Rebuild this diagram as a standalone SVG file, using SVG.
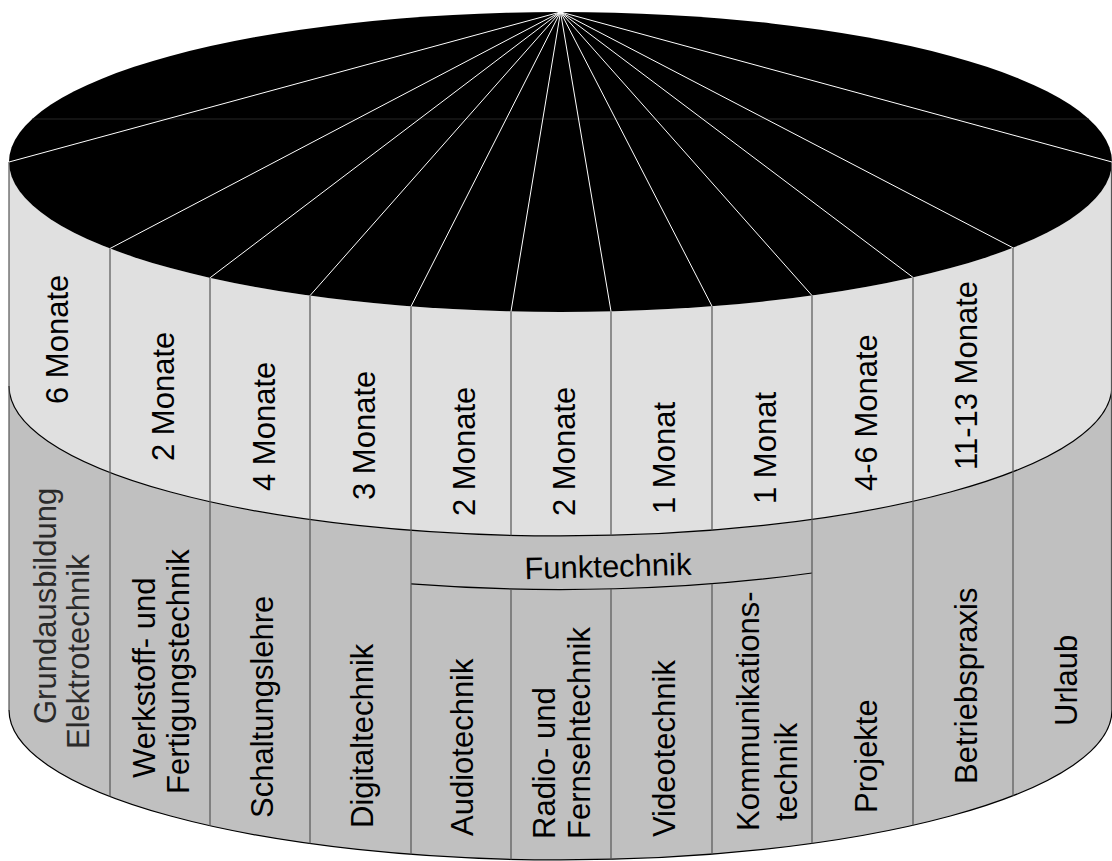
<svg xmlns="http://www.w3.org/2000/svg" width="1112" height="861" viewBox="0 0 1112 861">
<style>
  .lbl { font-family: "Liberation Sans", Arial, sans-serif; font-size: 31px; fill: #000; }
  .div { stroke: #555; stroke-width: 1.2; fill: none; }
  .edge { stroke: #000; stroke-width: 1.2; fill: none; }
  .ray { stroke: #fff; stroke-width: 1; fill: none; }
</style>
<rect x="0" y="0" width="1112" height="861" fill="#fff"/>
<g id="cylinder">
  <path d="M 9 386 A 551.5 150 0 0 0 1112 386 L 1112 710 A 551.5 150 0 0 1 9 710 Z" fill="#c0c0c0"/>
  <path d="M 9 162 A 551.5 150 0 0 0 1112 162 L 1112 386 A 551.5 150 0 0 1 9 386 Z" fill="#e0e0e0"/>
  <ellipse cx="560.5" cy="162" rx="551.5" ry="150" fill="#000"/>
  <line x1="32.5" y1="119" x2="1088.5" y2="119" stroke="#262626" stroke-width="1"/>
  <path class="edge" d="M 9 386 A 551.5 150 0 0 0 1112 386"/>
  <path class="edge" d="M 9 710 A 551.5 150 0 0 0 1112 710"/>
  <path class="edge" d="M 411 583.9 A 551.5 150 0 0 0 812 573"/>
  <line class="div" x1="9" y1="162" x2="9" y2="710"/>
  <line class="div" x1="1111.5" y1="162" x2="1111.5" y2="710"/>
</g>
<g id="connectors">
  <g id="rays">
    <line class="ray" x1="560.5" y1="12" x2="9" y2="162"/>
    <line class="ray" x1="560.5" y1="12" x2="110" y2="248.5"/>
    <line class="ray" x1="560.5" y1="12" x2="210" y2="277.8"/>
    <line class="ray" x1="560.5" y1="12" x2="310" y2="295.6"/>
    <line class="ray" x1="560.5" y1="12" x2="411" y2="306.4"/>
    <line class="ray" x1="560.5" y1="12" x2="511" y2="311.4"/>
    <line class="ray" x1="560.5" y1="12" x2="611" y2="311.4"/>
    <line class="ray" x1="560.5" y1="12" x2="712" y2="306.2"/>
    <line class="ray" x1="560.5" y1="12" x2="812" y2="295.5"/>
    <line class="ray" x1="560.5" y1="12" x2="913" y2="277.4"/>
    <line class="ray" x1="560.5" y1="12" x2="1013" y2="247.8"/>
    <line class="ray" x1="560.5" y1="12" x2="1112" y2="162"/>
  </g>
  <g id="dividers">
    <line class="div" x1="110" y1="248.5" x2="110" y2="796.5"/>
    <line class="div" x1="210" y1="277.8" x2="210" y2="825.8"/>
    <line class="div" x1="310" y1="295.6" x2="310" y2="843.6"/>
    <line class="div" x1="411" y1="306.4" x2="411" y2="854.4"/>
    <line class="div" x1="511" y1="311.4" x2="511" y2="535.4"/>
    <line class="div" x1="511" y1="588.9" x2="511" y2="859.4"/>
    <line class="div" x1="611" y1="311.4" x2="611" y2="535.4"/>
    <line class="div" x1="611" y1="588.9" x2="611" y2="859.4"/>
    <line class="div" x1="712" y1="306.2" x2="712" y2="530.2"/>
    <line class="div" x1="712" y1="583.7" x2="712" y2="854.2"/>
    <line class="div" x1="812" y1="295.5" x2="812" y2="843.5"/>
    <line class="div" x1="913" y1="277.4" x2="913" y2="825.4"/>
    <line class="div" x1="1013" y1="247.8" x2="1013" y2="795.8"/>
  </g>
</g>
<g id="seg-grundausbildung">
  <text class="lbl" transform="translate(68,404) rotate(-90)">6 Monate</text>
  <text class="lbl" style="fill:#2a2a2a" transform="translate(55.5,724) rotate(-90)">Grundausbildung</text>
  <text class="lbl" style="fill:#2a2a2a" transform="translate(89,749) rotate(-90)">Elektrotechnik</text>
</g>
<g id="seg-werkstoff">
  <text class="lbl" transform="translate(174,461) rotate(-90)">2 Monate</text>
  <text class="lbl" transform="translate(155,778) rotate(-90)">Werkstoff- und</text>
  <text class="lbl" transform="translate(189,794) rotate(-90)">Fertigungstechnik</text>
</g>
<g id="seg-schaltungslehre">
  <text class="lbl" transform="translate(275,491) rotate(-90)">4 Monate</text>
  <text class="lbl" transform="translate(273,818) rotate(-90)">Schaltungslehre</text>
</g>
<g id="seg-digitaltechnik">
  <text class="lbl" transform="translate(375,500) rotate(-90)">3 Monate</text>
  <text class="lbl" transform="translate(373,828) rotate(-90)">Digitaltechnik</text>
</g>
<g id="seg-funktechnik">
  <text class="lbl" text-anchor="middle" x="608" y="577" transform="rotate(-1.5 608 570)">Funktechnik</text>
</g>
<g id="seg-audiotechnik">
  <text class="lbl" transform="translate(475,516) rotate(-90)">2 Monate</text>
  <text class="lbl" transform="translate(473,836) rotate(-90)">Audiotechnik</text>
</g>
<g id="seg-radio">
  <text class="lbl" transform="translate(575,516) rotate(-90)">2 Monate</text>
  <text class="lbl" transform="translate(555,839) rotate(-90)">Radio- und</text>
  <text class="lbl" transform="translate(589.5,839) rotate(-90)">Fernsehtechnik</text>
</g>
<g id="seg-video">
  <text class="lbl" transform="translate(675,514) rotate(-90)">1 Monat</text>
  <text class="lbl" transform="translate(675,837) rotate(-90)">Videotechnik</text>
</g>
<g id="seg-kommunikation">
  <text class="lbl" transform="translate(776,504) rotate(-90)">1 Monat</text>
  <text class="lbl" transform="translate(759,831) rotate(-90)">Kommunikations-</text>
  <text class="lbl" transform="translate(796.5,821) rotate(-90)">technik</text>
</g>
<g id="seg-projekte">
  <text class="lbl" transform="translate(877,491) rotate(-90)">4-6 Monate</text>
  <text class="lbl" transform="translate(877,813) rotate(-90)">Projekte</text>
</g>
<g id="seg-betriebspraxis">
  <text class="lbl" transform="translate(977,470) rotate(-90)">11-13 Monate</text>
  <text class="lbl" transform="translate(977,784) rotate(-90)">Betriebspraxis</text>
</g>
<g id="seg-urlaub">
  <text class="lbl" transform="translate(1077,726) rotate(-90)">Urlaub</text>
</g>
</svg>
